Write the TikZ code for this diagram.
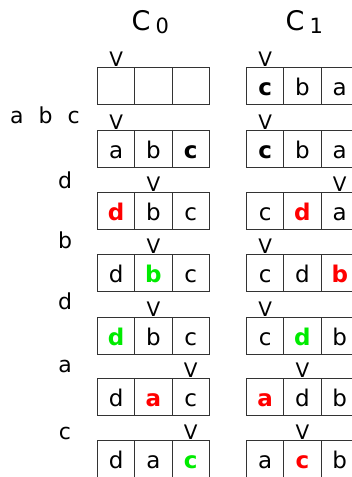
\documentclass[tikz,border=0pt]{standalone}
\usepackage{fontspec}
\setmainfont{DejaVu Sans}
\definecolor{hitgreen}{RGB}{0,235,0}
\newcommand{\hi}[2]{\textbf{\color{#1}#2}}
\tikzset{
  cell/.style={draw=black!80, line width=1pt, minimum width=37.3pt, minimum height=37pt,
    inner sep=0pt, anchor=north west, text height=19pt, text depth=0pt,
    font=\fontsize{23}{27}\selectfont},
  ptr/.style={anchor=base, inner sep=0pt, yshift=0.5pt, font=\fontsize{20}{24}\selectfont},
  lbl/.style={anchor=base, inner sep=0pt, font=\fontsize{22}{26}\selectfont},
  head/.style={anchor=base west, inner sep=0pt, font=\fontsize{27}{30}\selectfont},
}
\begin{document}
\begin{tikzpicture}[x=1pt, y=-1pt]
\useasboundingbox (0,0) rectangle (352,477);
% headers
\node[head] (h0) at (131.5,30) {C\hspace{5pt}\raisebox{-3pt}{\fontsize{21}{25}\selectfont 0}};
\node[head] (h1) at (285.5,30) {C\hspace{5pt}\raisebox{-3pt}{\fontsize{21}{25}\selectfont 1}};
% input sequence
\node[lbl, anchor=base west] (in1) at (10,123) {a\hspace{15pt}b\hspace{15pt}c};
\node[lbl] (in2) at (65,188) {d};
\node[lbl] (in3) at (65,248) {b};
\node[lbl] (in4) at (65,309) {d};
\node[lbl] (in5) at (65,372) {a};
\node[lbl] (in6) at (65,439) {c};
% cache C0
\foreach \r/\y/\p/\ca/\cb/\cc in {0/67/1/{}/{}/{}, 1/130/1/a/b/{\hi{black}{c}},
    2/192/2/{\hi{red}{d}}/b/c, 3/254/2/d/{\hi{hitgreen}{b}}/c,
    4/317/2/{\hi{hitgreen}{d}}/b/c, 5/378/3/d/{\hi{red}{a}}/c,
    6/440/3/d/a/{\hi{hitgreen}{c}}}{
  \node[cell] (z0r\r-1) at (97,\y) {\ca};
  \node[cell] (z0r\r-2) at (134.3,\y) {\cb};
  \node[cell] (z0r\r-3) at (171.6,\y) {\cc};
  \node[ptr] (p0r\r) at (z0r\r-\p.north) {V};
}
% cache C1
\foreach \r/\y/\p/\ca/\cb/\cc in {0/67/1/{\hi{black}{c}}/b/a, 1/130/1/{\hi{black}{c}}/b/a,
    2/192/3/c/{\hi{red}{d}}/a, 3/254/1/c/d/{\hi{red}{b}},
    4/317/1/c/{\hi{hitgreen}{d}}/b, 5/378/2/{\hi{red}{a}}/d/b,
    6/440/2/a/{\hi{red}{c}}/b}{
  \node[cell] (z1r\r-1) at (246,\y) {\ca};
  \node[cell] (z1r\r-2) at (283.3,\y) {\cb};
  \node[cell] (z1r\r-3) at (320.6,\y) {\cc};
  \node[ptr] (p1r\r) at (z1r\r-\p.north) {V};
}
\end{tikzpicture}
\end{document}
